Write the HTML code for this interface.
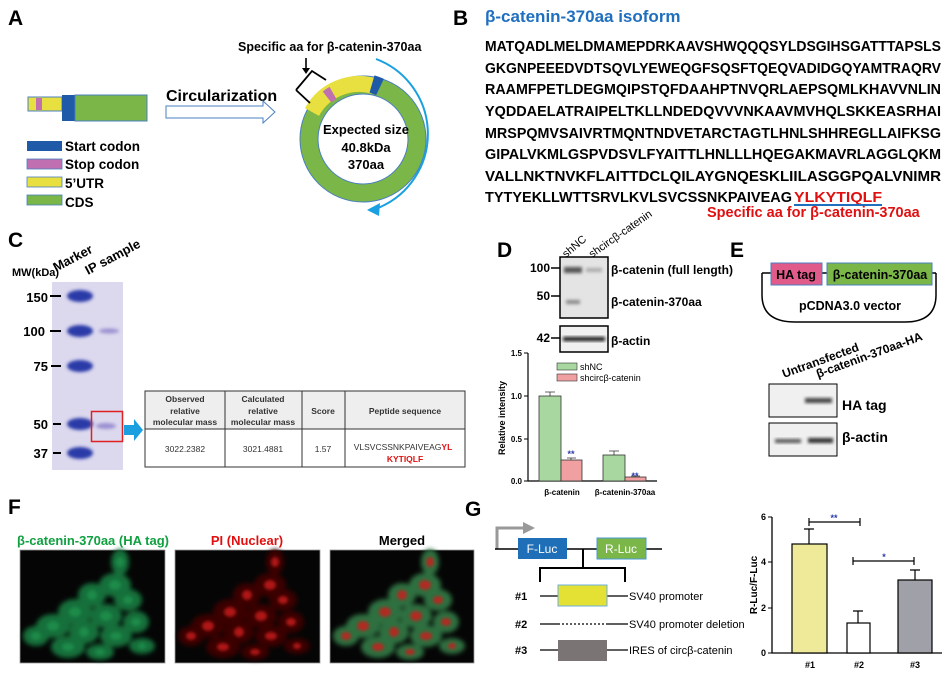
<!DOCTYPE html>
<html><head><meta charset="utf-8"><style>
html,body{margin:0;padding:0;background:#fff}
svg{display:block}
text{font-family:"Liberation Sans",sans-serif}
.b{font-weight:bold}
</style></head><body>
<svg width="949" height="677" viewBox="0 0 949 677" xmlns="http://www.w3.org/2000/svg">
<defs>
<filter id="bl" x="-20%" y="-20%" width="140%" height="140%"><feGaussianBlur stdDeviation="2.5"/></filter>
<filter id="bl2" x="-50%" y="-50%" width="200%" height="200%"><feGaussianBlur stdDeviation="1.5"/></filter>
<g id="cells" filter="url(#bl)">
<ellipse cx="100" cy="12" rx="9" ry="13"/><ellipse cx="95" cy="35" rx="16" ry="12"/><ellipse cx="72" cy="45" rx="14" ry="12"/><ellipse cx="108" cy="50" rx="14" ry="11"/><ellipse cx="55" cy="62" rx="17" ry="13"/><ellipse cx="86" cy="66" rx="16" ry="12"/><ellipse cx="116" cy="72" rx="13" ry="11"/><ellipse cx="33" cy="76" rx="17" ry="12"/><ellipse cx="64" cy="82" rx="15" ry="12"/><ellipse cx="96" cy="86" rx="16" ry="11"/><ellipse cx="16" cy="86" rx="13" ry="10"/><ellipse cx="48" cy="97" rx="17" ry="11"/><ellipse cx="122" cy="96" rx="13" ry="8"/><ellipse cx="80" cy="102" rx="14" ry="8"/>
</g>
<g id="nuc" filter="url(#bl2)">
<ellipse cx="100" cy="12" rx="4" ry="5"/><ellipse cx="95" cy="35" rx="6" ry="5"/><ellipse cx="72" cy="45" rx="5" ry="5"/><ellipse cx="108" cy="50" rx="5" ry="4"/><ellipse cx="55" cy="62" rx="6" ry="5"/><ellipse cx="86" cy="66" rx="6" ry="5"/><ellipse cx="116" cy="72" rx="5" ry="4"/><ellipse cx="33" cy="76" rx="6" ry="5"/><ellipse cx="64" cy="82" rx="5" ry="5"/><ellipse cx="96" cy="86" rx="6" ry="4"/><ellipse cx="16" cy="86" rx="5" ry="4"/><ellipse cx="48" cy="97" rx="6" ry="4"/><ellipse cx="122" cy="96" rx="4" ry="3"/><ellipse cx="80" cy="102" rx="5" ry="3"/>
</g>
</defs>

<!-- Panel A -->
<text x="8" y="25" class="b" font-size="21">A</text>
<rect x="28" y="97" width="34" height="14" fill="#e8e040" stroke="#4a7fc0" stroke-width="1"/>
<rect x="36" y="98" width="6" height="12" fill="#c070b0"/>
<rect x="62" y="95" width="13" height="26" fill="#1f5aa8"/>
<rect x="75" y="95" width="72" height="26" fill="#7ab648" stroke="#4a7fc0" stroke-width="1"/>
<rect x="27" y="141" width="35" height="10" fill="#1f5aa8"/>
<rect x="27" y="159" width="35" height="10" fill="#c070b0" stroke="#4a7fc0" stroke-width="0.8"/>
<rect x="27" y="177" width="35" height="10" fill="#e8e040" stroke="#4a7fc0" stroke-width="0.8"/>
<rect x="27" y="195" width="35" height="10" fill="#7ab648" stroke="#4a7fc0" stroke-width="0.8"/>
<g class="b" font-size="13.5"><text x="65" y="151">Start codon</text><text x="65" y="169">Stop codon</text><text x="65" y="188">5’UTR</text><text x="65" y="207">CDS</text></g>
<text x="166" y="101" class="b" font-size="16">Circularization</text>
<path d="M166,106 H263 V101 L275,112 L263,123 V118 H166 Z" fill="#fff" stroke="#4a7fc0" stroke-width="1"/>
<circle cx="363" cy="139" r="54" fill="none" stroke="#7ab648" stroke-width="18"/>
<circle cx="363" cy="139" r="63" fill="none" stroke="#4a7fc0" stroke-width="1"/>
<circle cx="363" cy="139" r="45" fill="none" stroke="#4a7fc0" stroke-width="1"/>
<path d="M312,112 A54,54 0 0 1 374,86" fill="none" stroke="#e8e040" stroke-width="16"/>
<path d="M372,84 A54,54 0 0 1 380,87" fill="none" stroke="#1f5aa8" stroke-width="18"/>
<path d="M327,97 A54,54 0 0 1 333,93" fill="none" stroke="#c070b0" stroke-width="14"/>
<path d="M296,90 L312,71 L326,80 M296,90 L310,103" fill="none" stroke="#000" stroke-width="1.8"/>
<path d="M306,58 V70" stroke="#000" stroke-width="1.6"/><path d="M302,68 L306,74 L310,68 Z" fill="#000"/>
<path d="M376,59 A80,80 0 0 1 378,208" fill="none" stroke="#1aa0e0" stroke-width="2"/>
<path d="M367,210 L380,203 L379,216 Z" fill="#1aa0e0"/>
<g class="b" font-size="13" text-anchor="middle"><text x="366" y="134">Expected size</text><text x="366" y="152">40.8kDa</text><text x="366" y="169">370aa</text></g>
<text x="238" y="51" class="b" font-size="12.5">Specific aa for β-catenin-370aa</text>

<!-- Panel B -->
<text x="453" y="25" class="b" font-size="21">B</text>
<text x="485" y="22" class="b" font-size="17" fill="#1f6fbf">β-catenin-370aa isoform</text>
<g class="b" font-size="15" style="font-family:'DejaVu Sans Mono','Liberation Mono',monospace">
<text x="485" y="51" textLength="456" lengthAdjust="spacingAndGlyphs">MATQADLMELDMAMEPDRKAAVSHWQQQSYLDSGIHSGATTTAPSLS</text>
<text x="485" y="73" textLength="456" lengthAdjust="spacingAndGlyphs">GKGNPEEEDVDTSQVLYEWEQGFSQSFTQEQVADIDGQYAMTRAQRV</text>
<text x="485" y="94" textLength="456" lengthAdjust="spacingAndGlyphs">RAAMFPETLDEGMQIPSTQFDAAHPTNVQRLAEPSQMLKHAVVNLIN</text>
<text x="485" y="116" textLength="456" lengthAdjust="spacingAndGlyphs">YQDDAELATRAIPELTKLLNDEDQVVVNKAAVMVHQLSKKEASRHAI</text>
<text x="485" y="138" textLength="456" lengthAdjust="spacingAndGlyphs">MRSPQMVSAIVRTMQNTNDVETARCTAGTLHNLSHHREGLLAIFKSG</text>
<text x="485" y="159" textLength="456" lengthAdjust="spacingAndGlyphs">GIPALVKMLGSPVDSVLFYAITTLHNLLLHQEGAKMAVRLAGGLQKM</text>
<text x="485" y="181" textLength="456" lengthAdjust="spacingAndGlyphs">VALLNKTNVKFLAITTDCLQILAYGNQESKLIILASGGPQALVNIMR</text>
<text x="485" y="202" textLength="307" lengthAdjust="spacingAndGlyphs">TYTYEKLLWTTSRVLKVLSVCSSNKPAIVEAG</text>
<text x="794" y="202" textLength="88" lengthAdjust="spacingAndGlyphs" fill="#e01010">YLKYTIQLF</text>
</g>
<path d="M794,205 H882" stroke="#1f6fbf" stroke-width="2"/>
<text x="707" y="217" class="b" font-size="14.5" fill="#e01010">Specific aa for β-catenin-370aa</text>

<!-- Panel C -->
<text x="8" y="247" class="b" font-size="21">C</text>
<text x="12" y="276" class="b" font-size="11">MW(kDa)</text>
<text x="0" y="0" class="b" font-size="13" transform="translate(56,272) rotate(-28)">Marker</text>
<text x="0" y="0" class="b" font-size="13" transform="translate(88,275) rotate(-28)">IP sample</text>
<rect x="52" y="282" width="71" height="188" fill="#dcd8ee"/>
<g fill="#2a3aa8" filter="url(#bl2)">
<ellipse cx="80" cy="296" rx="13" ry="6"/><ellipse cx="80" cy="331" rx="13" ry="6"/><ellipse cx="80" cy="366" rx="13" ry="6"/><ellipse cx="80" cy="424" rx="13" ry="6"/><ellipse cx="80" cy="453" rx="13" ry="6"/>
</g>
<g fill="#9a90d0" filter="url(#bl2)"><ellipse cx="109" cy="331" rx="10" ry="2.5"/><ellipse cx="106" cy="426" rx="10" ry="3"/></g>
<rect x="91.5" y="411.5" width="31" height="30" fill="none" stroke="#e02020" stroke-width="1.5"/>
<path d="M124,425 H134 V419 L143,430 L134,441 V435 H124 Z" fill="#1aa0e0"/>
<g class="b" font-size="13" text-anchor="end"><text x="48" y="302">150</text><text x="45" y="336">100</text><text x="48" y="371">75</text><text x="48" y="429">50</text><text x="48" y="458">37</text></g>
<g stroke="#000" stroke-width="2"><path d="M50,296 H61 M50,331 H61 M51,366 H61 M53,424 H61 M53,453 H61"/></g>
<rect x="145" y="391" width="320" height="38" fill="#eeeeee"/>
<g fill="none" stroke="#333" stroke-width="1"><rect x="145" y="391" width="320" height="76"/><path d="M145,429 H465 M225,391 V467 M302,391 V467 M345,391 V467"/></g>
<g class="b" font-size="8.5" text-anchor="middle" fill="#333"><text x="185" y="402">Observed</text><text x="185" y="414">relative</text><text x="185" y="425">molecular mass</text><text x="263" y="402">Calculated</text><text x="263" y="414">relative</text><text x="263" y="425">molecular mass</text><text x="323" y="414">Score</text><text x="405" y="414">Peptide sequence</text></g>
<g font-size="8.5" text-anchor="middle" fill="#333"><text x="185" y="452">3022.2382</text><text x="263" y="452">3021.4881</text><text x="323" y="452">1.57</text><text x="403" y="450">VLSVCSSNKPAIVEAG<tspan fill="#e01010" font-weight="bold">YL</tspan></text><text x="405" y="462" fill="#e01010" font-weight="bold">KYTIQLF</text></g>

<!-- Panel D -->
<text x="497" y="257" class="b" font-size="21">D</text>
<text transform="translate(566,258) rotate(-40)" font-size="11">shNC</text>
<text transform="translate(592,258) rotate(-35)" font-size="11">shcircβ-catenin</text>
<rect x="560" y="257" width="48" height="61" fill="#e4e4e4" stroke="#000" stroke-width="1.5"/>
<g filter="url(#bl2)"><rect x="564" y="267" width="18" height="6" fill="#555"/><rect x="586" y="268" width="16" height="4" fill="#aaa"/><rect x="566" y="300" width="14" height="4" fill="#888"/></g>
<rect x="560" y="326" width="48" height="26" fill="#f0f0f0" stroke="#000" stroke-width="1.5"/>
<rect x="563" y="337" width="42" height="4" fill="#111" filter="url(#bl2)"/>
<g class="b" font-size="12" text-anchor="end"><text x="550" y="272">100</text><text x="550" y="300">50</text><text x="550" y="342">42</text></g>
<path d="M551,268 H560 M551,296 H560 M551,338 H560" stroke="#000" stroke-width="1.5"/>
<g class="b" font-size="12"><text x="611" y="274">β-catenin (full length)</text><text x="611" y="306">β-catenin-370aa</text><text x="611" y="345">β-actin</text></g>
<path d="M528,353 V481 H657" fill="none" stroke="#000" stroke-width="1.2"/>
<path d="M524,353 H528 M524,396 H528 M524,439 H528 M524,481 H528" stroke="#000"/>
<g class="b" font-size="8" text-anchor="end"><text x="522" y="356">1.5</text><text x="522" y="399">1.0</text><text x="522" y="442">0.5</text><text x="522" y="484">0.0</text></g>
<text transform="translate(505,418) rotate(-90)" class="b" font-size="9" text-anchor="middle">Relative intensity</text>
<g stroke="#333" stroke-width="0.8"><rect x="539" y="396" width="22" height="85" fill="#a8d8a0"/><rect x="561" y="460" width="21" height="21" fill="#f0a0a0"/><rect x="603" y="455" width="22" height="26" fill="#a8d8a0"/><rect x="625" y="477" width="21" height="4" fill="#f0a0a0"/>
<path d="M550,396 V392 M545,392 H555 M571,460 V458 M567,458 H576 M614,455 V451 M609,451 H619 M635,477 V476 M631,476 H640" fill="none"/></g>
<g fill="#2a3aa8" font-size="9" class="b" text-anchor="middle"><text x="571" y="457">**</text><text x="635" y="479">**</text></g>
<rect x="557" y="363" width="20" height="7" fill="#a8d8a0" stroke="#333" stroke-width="0.6"/><rect x="557" y="374" width="20" height="7" fill="#f0a0a0" stroke="#333" stroke-width="0.6"/>
<g font-size="9"><text x="580" y="370">shNC</text><text x="580" y="381">shcircβ-catenin</text></g>
<g class="b" font-size="8" text-anchor="middle"><text x="562" y="495">β-catenin</text><text x="625" y="495">β-catenin-370aa</text></g>

<!-- Panel E -->
<text x="730" y="257" class="b" font-size="21">E</text>
<path d="M762,273 V295 Q762,322 795,322 H905 Q936,322 936,295 V273 M762,273 H771 M822,273 H827 M932,273 H936" fill="none" stroke="#000" stroke-width="1.5"/>
<rect x="771" y="263" width="51" height="22" fill="#e05a8a" stroke="#4a7fc0"/>
<rect x="827" y="263" width="105" height="22" fill="#7ab648" stroke="#4a7fc0"/>
<text x="796" y="279" class="b" font-size="12.5" text-anchor="middle">HA tag</text>
<text x="880" y="279" class="b" font-size="12.5" text-anchor="middle">β-catenin-370aa</text>
<text x="850" y="310" class="b" font-size="12.5" text-anchor="middle">pCDNA3.0 vector</text>
<text transform="translate(784,378) rotate(-20)" class="b" font-size="12">Untransfected</text>
<text transform="translate(818,378) rotate(-20)" class="b" font-size="12">β-catenin-370aa-HA</text>
<rect x="769" y="384" width="68" height="33" fill="#f0f0f0" stroke="#000"/>
<rect x="805" y="398" width="27" height="5" fill="#444" filter="url(#bl2)"/>
<rect x="769" y="423" width="68" height="33" fill="#f0f0f0" stroke="#000"/>
<rect x="775" y="439" width="26" height="4" fill="#555" filter="url(#bl2)"/><rect x="808" y="438" width="25" height="5" fill="#333" filter="url(#bl2)"/>
<g class="b" font-size="14"><text x="842" y="410">HA tag</text><text x="842" y="442">β-actin</text></g>

<!-- Panel F -->
<text x="8" y="514" class="b" font-size="21">F</text>
<g class="b" font-size="13" text-anchor="middle"><text x="93" y="545" fill="#10a040">β-catenin-370aa (HA tag)</text><text x="247" y="545" fill="#e01010">PI (Nuclear)</text><text x="402" y="545">Merged</text></g>
<rect x="20" y="550" width="145" height="113" fill="#050505" stroke="#999" stroke-width="0.8"/>
<rect x="175" y="550" width="145" height="113" fill="#050505" stroke="#999" stroke-width="0.8"/>
<rect x="330" y="550" width="144" height="113" fill="#050505" stroke="#999" stroke-width="0.8"/>
<use href="#cells" transform="translate(20,550)" fill="#15703a"/>
<use href="#nuc" transform="translate(20,550)" fill="#1e8a48"/>
<use href="#cells" transform="translate(175,550)" fill="#3a0606"/>
<use href="#nuc" transform="translate(175,550)" fill="#b01515"/>
<use href="#cells" transform="translate(330,550)" fill="#2e7040"/>
<use href="#nuc" transform="translate(330,550)" fill="#b02a20"/>

<!-- Panel G -->
<text x="465" y="516" class="b" font-size="21">G</text>
<path d="M497,549 V528 H525" fill="none" stroke="#999" stroke-width="3"/><path d="M523,522 L535,528 L523,534 Z" fill="#999"/>
<path d="M495,549 H662" stroke="#000" stroke-width="1.5"/>
<rect x="518" y="538" width="49" height="21" fill="#1f6fb8"/><text x="542" y="553" font-size="12" fill="#fff" text-anchor="middle">F-Luc</text>
<rect x="597" y="538" width="49" height="21" fill="#7ab648" stroke="#4a9ad0"/><text x="621" y="553" font-size="12" fill="#fff" text-anchor="middle">R-Luc</text>
<path d="M583,549 V568 M540,582 V568 H625 V582" fill="none" stroke="#000" stroke-width="2"/>
<g class="b" font-size="11"><text x="515" y="600">#1</text><text x="515" y="628">#2</text><text x="515" y="654">#3</text></g>
<path d="M540,596 H558 M607,596 H628 M540,624 H558 M607,624 H628 M540,650 H558 M607,650 H628" stroke="#000" stroke-width="1.3"/>
<path d="M558,624 H607" stroke="#000" stroke-width="1.3" stroke-dasharray="2,2"/>
<rect x="558" y="585" width="49" height="21" fill="#e4e034" stroke="#6ab0e0"/>
<rect x="558" y="640" width="49" height="21" fill="#7a7474"/>
<g font-size="11"><text x="629" y="600">SV40 promoter</text><text x="629" y="628">SV40 promoter deletion</text><text x="629" y="654">IRES of circβ-catenin</text></g>
<path d="M772,517 V653 H942" fill="none" stroke="#000" stroke-width="1.3"/>
<path d="M768,517 H772 M768,562 H772 M768,608 H772 M768,653 H772" stroke="#000"/>
<g class="b" font-size="9" text-anchor="end"><text x="766" y="520">6</text><text x="766" y="565">4</text><text x="766" y="611">2</text><text x="766" y="656">0</text></g>
<text transform="translate(757,585) rotate(-90)" class="b" font-size="10" text-anchor="middle">R-Luc/F-Luc</text>
<g stroke="#000" stroke-width="1.2"><rect x="792" y="544" width="35" height="109" fill="#eeea9a"/><rect x="847" y="623" width="23" height="30" fill="#fff"/><rect x="898" y="580" width="34" height="73" fill="#a0a0a8"/>
<path d="M809,544 V529 M804,529 H814 M858,623 V611 M853,611 H863 M915,580 V570 M910,570 H920 M809,522 H860 M809,518 V526 M860,518 V526 M853,561 H914 M853,557 V565 M914,557 V565" fill="none"/></g>
<g fill="#2a3aa8" font-size="9" class="b" text-anchor="middle"><text x="834" y="521">**</text><text x="884" y="560">*</text></g>
<g class="b" font-size="9" text-anchor="middle"><text x="810" y="668">#1</text><text x="859" y="668">#2</text><text x="915" y="668">#3</text></g>
</svg>
</body></html>
